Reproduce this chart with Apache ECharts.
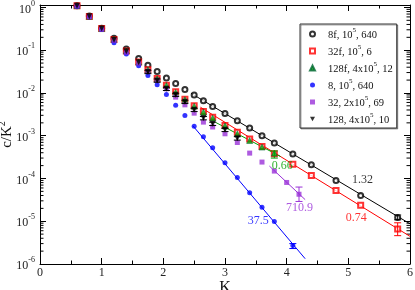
<!DOCTYPE html>
<html><head><meta charset="utf-8">
<script src="https://cdn.jsdelivr.net/npm/echarts@6/dist/echarts.min.js"></script>
<style>html,body{margin:0;padding:0;background:#fff}#c{width:415px;height:290px}</style>
</head><body><div id="c"></div>
<script>
// ---- data ----
const K_A = [0.6,0.8,1.0,1.2,1.4,1.6,1.75,1.9,2.05,2.2,2.35,2.5,2.65,2.8,3.0,3.2,3.4,3.6,3.8,4.1,4.4,4.8,5.2,5.8];
const v8f  = [1.10,0.633,0.327,0.19,0.107,0.0643,0.0446,0.0316,0.0225,0.0166,0.012,0.0089,0.00653,0.00481,0.00331,0.00225,0.00151,0.001,0.000672,0.000373,0.000209,0.0000897,0.0000401,0.0000123];
const v32f = [1.10,0.616,0.32,0.179,0.0964,0.0533,0.0347,0.0217,0.0152,0.0106,0.00716,0.00501,0.00368,0.00272,0.00173,0.0012,0.000834,0.00056,0.000378,0.000215,0.000117,0.0000524,0.0000237,0.00000657];
const K_128f = [0.6,0.8,1.0,1.2,1.4,1.6,1.75,1.9,2.05,2.2,2.35,2.5,2.65,2.8,3.0,3.2,3.4,3.6,3.8];
const v128f = [1.10,0.62,0.32,0.18,0.097,0.053,0.035,0.0215,0.015,0.0103,0.0070,0.0049,0.0036,0.0026,0.0017,0.00111,0.000772,0.000542,0.000392];
const K_8 = [0.6,0.8,1.0,1.2,1.4,1.6,1.75,1.9,2.05,2.2,2.35,2.5,2.65,2.8,3.0,3.2,3.4,3.6,3.8,4.1];
const v8 = [1.05,0.60,0.306,0.15,0.082,0.043,0.0255,0.0155,0.00918,0.00519,0.00296,0.00167,0.000942,0.000521,0.000233,0.000105,0.0000463,0.0000212,0.00000989,0.00000272];
const K_32 = [0.6,0.8,1.0,1.2,1.4,1.6,1.75,1.9,2.05,2.2,2.35,2.5,2.65,2.8,3.0,3.2,3.4,3.6,3.8,4.0,4.2];
const v32 = [1.08,0.61,0.31,0.17,0.09,0.05,0.032,0.0195,0.0125,0.00798,0.00527,0.00337,0.00208,0.0016,0.00111,0.000693,0.000392,0.000242,0.000149,0.0000807,0.0000428];
const K_128 = [0.6,0.8,1.0,1.2,1.4,1.6,1.75,1.9,2.05,2.2,2.35,2.5,2.65,2.8,3.0,3.2];
const v128 = [1.10,0.62,0.32,0.175,0.095,0.052,0.0311,0.0195,0.0125,0.00903,0.0062,0.00403,0.00258,0.0019,0.00137,0.00087];
const e128 = [0,0,0,0,0,0,0.0028,0.0017,0.0011,0.0008,0.00055,0.00036,0.00023,0.00017,0.00012,0.00008];

// error bars: K, low, high
const err8fK = [5.8],  err8fLo = [1.08e-5], err8fHi = [1.40e-5];
const err32fK = [5.8], err32fLo = [4.6e-6], err32fHi = [9.2e-6];
const err128fK = [3.8], err128fLo = [3.0e-4], err128fHi = [4.4e-4];
const err8K = [4.1],  err8Lo = [2.3e-6], err8Hi = [3.0e-6];
const err32K = [4.2], err32Lo = [2.9e-5], err32Hi = [6.3e-5];

// exponential fit lines: [K start, K end], [value start, value end]
const fit8fK = [2.45, 6.0],  fit8fV = [0.0098, 8.7e-6];
const fit32fK = [2.6, 6.0],  fit32fV = [0.00466, 4.43e-6];
const fit128fK = [2.85, 3.9], fit128fV = [0.00204, 0.000327];
const fit8K = [2.48, 4.3],   fit8V = [0.0017, 1.33e-6];
const fit32K = [3.72, 4.3],  fit32V = [0.000195, 3.2e-5];

// fit annotations
const noteText = ['1.32','0.74','0.66','710.9','37.5'];
const noteK = [5.23, 5.13, 3.93, 4.21, 3.54];
const noteV = [9.3e-5, 1.21e-5, 1.98e-4, 2.01e-5, 1.0e-5];

const names = ['8f, 10^5, 640','32f, 10^5, 6','128f, 4x10^5, 12','8, 10^5, 640','32, 2x10^5, 69','128, 4x10^5, 10'];

// ---- styling ----
const SERIF = '"Liberation Serif","DejaVu Serif",serif';
const C = {k:'#000000', r:'#ff0000', g:'#00a000', b:'#0000ff', p:'#9a32d8'};
const noteColor = [C.k, C.r, C.g, C.p, C.b];

const zip = (a,b) => a.map((x,i)=>[x,b[i]]);
const errData = (k,lo,hi) => k.map((x,i)=>[x,lo[i],hi[i]]);

function errSeries(data, color){
  return {type:'custom', silent:true, z:4, data:data,
    renderItem:function(params, api){
      const p1 = api.coord([api.value(0), api.value(1)]);
      const p2 = api.coord([api.value(0), api.value(2)]);
      const w = 3.5;
      const st = {stroke:color, lineWidth:1};
      return {type:'group', children:[
        {type:'line', shape:{x1:p1[0],y1:p1[1],x2:p2[0],y2:p2[1]}, style:st},
        {type:'line', shape:{x1:p1[0]-w,y1:p1[1],x2:p1[0]+w,y2:p1[1]}, style:st},
        {type:'line', shape:{x1:p2[0]-w,y1:p2[1],x2:p2[0]+w,y2:p2[1]}, style:st}
      ]};
    }};
}
function fitSeries(k, v, color){
  return {type:'line', silent:true, symbol:'none', z:1, data:zip(k,v),
    lineStyle:{color:color, width:1}};
}
// minor ticks 2..9 x 10^n on left and right frame
const minorVals = [];
for (let p=-6;p<0;p++) for (let m=2;m<=9;m++) minorVals.push([0, m*Math.pow(10,p)]);

const supFmt = v => '{b|10}{s|' + Math.round(Math.log10(v)) + '}';
const richSup = {b:{fontFamily:SERIF,fontSize:12,color:'#222',lineHeight:16,verticalAlign:'bottom'},
                 s:{fontFamily:SERIF,fontSize:8,color:'#222',lineHeight:8,verticalAlign:'top'}};

const chart = echarts.init(document.getElementById('c'), null, {renderer:'canvas'});
const axisBase = {
  axisLine:{show:true, onZero:false, lineStyle:{color:'#000', width:1}},
  splitLine:{show:false}
};
const legendData = names.map((n,i)=> i===5 ? {name:n, icon:'path://M0,0L10,0L5,9Z'} : {name:n});
chart.setOption({
  animation:false,
  backgroundColor:'#fff',
  grid:{left:40, right:5, top:5, bottom:26, containLabel:false, outerBoundsMode:'none'},
  legend:{
    data:legendData, orient:'vertical', left:300, top:24,
    itemWidth:5, itemHeight:5, itemGap:3, symbolKeepAspect:true,
    padding:[3,4,2,9],
    borderColor:'#333', borderWidth:1, backgroundColor:'#fff',
    shadowColor:'rgba(0,0,0,0.35)', shadowOffsetX:1, shadowOffsetY:1,
    formatter: n => '{n|' + n.replace(/\^(\d)/, '}{s|$1}{n|') + '}',
    textStyle:{padding:[0,0,0,8], rich:{
      n:{fontFamily:SERIF,fontSize:10.5,color:'#111',lineHeight:14,verticalAlign:'bottom'},
      s:{fontFamily:SERIF,fontSize:7,color:'#111',lineHeight:8,verticalAlign:'top'}}}
  },
  xAxis:[
    Object.assign({type:'value', min:0, max:6, interval:1, position:'bottom',
      axisTick:{inside:true, length:6, lineStyle:{color:'#000'}},
      minorTick:{show:true, splitNumber:2, length:3.5, lineStyle:{color:'#000'}},
      axisLabel:{fontFamily:SERIF, fontSize:12, color:'#222', margin:3},
      name:'K', nameLocation:'middle', nameGap:16, nameMoveOverlap:false,
      nameTextStyle:{fontFamily:SERIF, fontSize:16, color:'#111'}}, axisBase),
    Object.assign({type:'value', min:0, max:6, interval:1, position:'top',
      axisTick:{inside:true, length:6, lineStyle:{color:'#000'}},
      minorTick:{show:true, splitNumber:2, length:3.5, lineStyle:{color:'#000'}},
      axisLabel:{show:false}}, axisBase)
  ],
  yAxis:[
    Object.assign({type:'log', logBase:10, min:1e-6, max:1.14, position:'left',
      axisTick:{inside:true, length:6, lineStyle:{color:'#000'}},
      axisLabel:{formatter:supFmt, rich:richSup, margin:5, showMaxLabel:false},
      name:'{a|c/K}{s|2}', nameLocation:'middle', nameGap:25, nameRotate:90, nameMoveOverlap:false,
      nameTextStyle:{rich:{
        a:{fontFamily:SERIF,fontSize:15,color:'#111',lineHeight:18,verticalAlign:'bottom'},
        s:{fontFamily:SERIF,fontSize:10,color:'#111',lineHeight:10,verticalAlign:'top'}}}
    }, axisBase),
    Object.assign({type:'log', logBase:10, min:1e-6, max:1.14, position:'right',
      axisTick:{inside:true, length:6, lineStyle:{color:'#000'}},
      axisLabel:{show:false}}, axisBase)
  ],
  series:[
    fitSeries(fit8fK, fit8fV, C.k),
    fitSeries(fit32fK, fit32fV, C.r),
    fitSeries(fit128fK, fit128fV, C.g),
    fitSeries(fit8K, fit8V, C.b),
    fitSeries(fit32K, fit32V, C.p),
    {type:'custom', silent:true, z:1, data:minorVals,
      renderItem:function(params, api){
        const l = api.coord([0, api.value(1)]);
        const r = api.coord([6, api.value(1)]);
        const st = {stroke:'#000', lineWidth:1};
        return {type:'group', children:[
          {type:'line', shape:{x1:l[0],y1:l[1],x2:l[0]+3.5,y2:l[1]}, style:st},
          {type:'line', shape:{x1:r[0],y1:r[1],x2:r[0]-3.5,y2:r[1]}, style:st}]};
      }},
    {name:names[0], type:'scatter', z:3, data:zip(K_A, v8f), symbol:'emptyCircle', symbolSize:5,
      itemStyle:{color:C.k, borderColor:C.k, borderWidth:1}},
    {name:names[1], type:'scatter', z:3, data:zip(K_A, v32f), symbol:'emptyRect', symbolSize:5,
      itemStyle:{color:C.r, borderColor:C.r, borderWidth:1}},
    {name:names[2], type:'scatter', z:3, data:zip(K_128f, v128f), symbol:'triangle', symbolSize:6,
      itemStyle:{color:C.g, borderColor:'#063', borderWidth:0.6}},
    {name:names[3], type:'scatter', z:3, data:zip(K_8, v8), symbol:'circle', symbolSize:5,
      itemStyle:{color:C.b}},
    {name:names[4], type:'scatter', z:3, data:zip(K_32, v32), symbol:'rect', symbolSize:5,
      itemStyle:{color:C.p}},
    {name:names[5], type:'scatter', z:3, data:zip(K_128, v128), symbol:'triangle', symbolRotate:180, symbolSize:6,
      itemStyle:{color:C.k}},
    errSeries(errData(err8fK, err8fLo, err8fHi), C.k),
    errSeries(errData(err32fK, err32fLo, err32fHi), C.r),
    errSeries(errData(err128fK, err128fLo, err128fHi), C.g),
    errSeries(errData(err8K, err8Lo, err8Hi), C.b),
    errSeries(errData(err32K, err32Lo, err32Hi), C.p),
    errSeries(K_128.map((k,i)=>[k, v128[i]-e128[i], v128[i]+e128[i]]).filter((d,i)=>e128[i]>0), C.k),
    {type:'scatter', silent:true, z:5, symbolSize:1, itemStyle:{color:'rgba(0,0,0,0)'},
      data: noteText.map((t,i)=>({value:[noteK[i], noteV[i]], name:t,
        label:{show:true, position:'inside', formatter:t, color:noteColor[i],
               fontFamily:SERIF, fontSize:12}}))}
  ]
});
</script></body></html>
